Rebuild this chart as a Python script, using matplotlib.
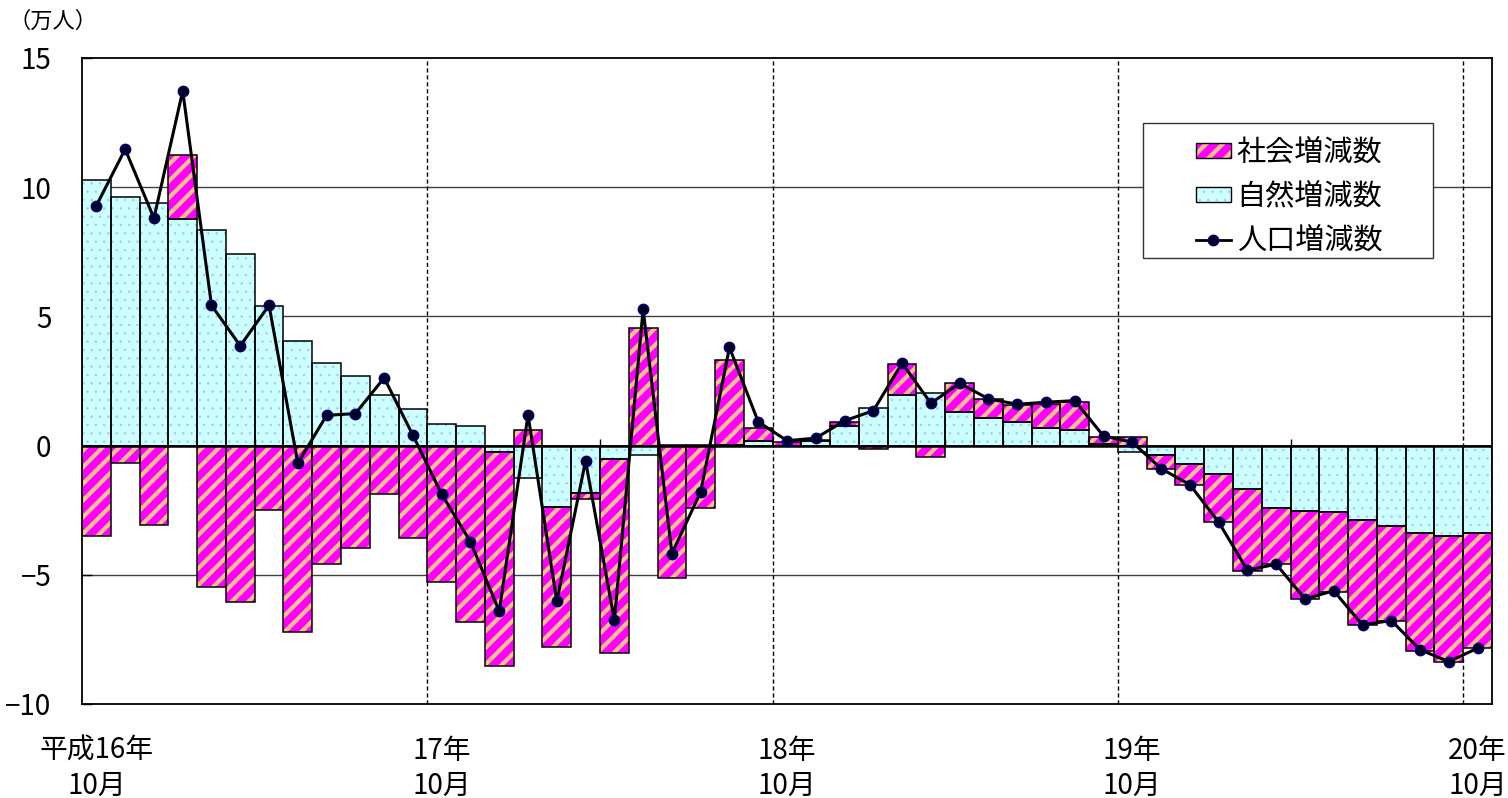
import numpy as np
import matplotlib
matplotlib.use('Agg')
import matplotlib.pyplot as plt
from matplotlib.patches import Patch, Rectangle
from matplotlib.lines import Line2D

plt.rcParams['font.family'] = ['Noto Sans CJK JP', 'DejaVu Sans']

# 平成16年10月 - 20年10月 (monthly, unit: 万人)
social = [-3.50, -0.68, -3.07, 2.47, -5.46, -6.06, -2.49, -7.22, -4.57, -3.98, -1.86, -3.58,
          -5.29, -6.82, -8.27, 0.59, -5.40, -0.22, -7.53, 4.56, -5.12, -2.43, 3.30, 0.50,
          0.14, 0.02, 0.17, -0.13, 1.19, -0.43, 1.12, 0.75, 0.67, 0.93, 1.09, 0.28,
          0.32, -0.51, -0.80, -1.86, -3.19, -2.16, -3.42, -3.09, -4.08, -3.65, -4.55, -4.89,
          -4.46]
natural = [10.27, 9.64, 9.38, 8.77, 8.36, 7.40, 5.39, 4.04, 3.20, 2.71, 1.96, 1.43,
           0.85, 0.75, -0.26, -1.26, -2.38, -1.84, -0.51, -0.36, 0.04, 0.03, 0.03, 0.19,
           0.0, 0.18, 0.76, 1.45, 1.96, 2.03, 1.29, 1.06, 0.91, 0.67, 0.61, 0.06,
           -0.25, -0.38, -0.71, -1.10, -1.68, -2.43, -2.52, -2.58, -2.86, -3.13, -3.38, -3.49,
           -3.38]
population = [9.29, 11.47, 8.80, 13.73, 5.43, 3.86, 5.43, -0.68, 1.17, 1.24, 2.62, 0.40,
              -1.88, -3.72, -6.41, 1.19, -6.03, -0.59, -6.76, 5.28, -4.18, -1.79, 3.80, 0.92,
              0.19, 0.29, 0.96, 1.35, 3.19, 1.64, 2.41, 1.81, 1.60, 1.68, 1.74, 0.37,
              0.13, -0.89, -1.51, -2.96, -4.82, -4.59, -5.93, -5.62, -6.94, -6.77, -7.90, -8.36,
              -7.84]
year_ticks = [0, 12, 24, 36, 48]
year_labels = ['平成16年\n10月', '17年\n10月', '18年\n10月', '19年\n10月', '20年\n10月']
yticks = [-10, -5, 0, 5, 10, 15]
ylabels = ['−10', '−5', '0', '5', '10', '15']

PINK = '#FF00FF'
STRIPE = '#F9C28A'
CYAN = '#CCFFFF'
DOT = '#A9C4F4'

social = np.array(social)
natural = np.array(natural)
x = np.arange(len(natural))
soc_bottom = np.where(np.sign(social) == np.sign(natural), natural, 0)


def hatch_lw(patches, w):
    for p in patches:
        if hasattr(p, 'set_hatch_linewidth'):
            p.set_hatch_linewidth(w)


fig = plt.figure(figsize=(15.08, 7.98), dpi=100)
ax = fig.add_axes([82 / 1508, 1 - 704 / 798, 1410 / 1508, 646 / 798])

# grid lines and year separators behind the bars
for v in [-5, 5, 10]:
    ax.axhline(v, color='#404040', lw=1.0, zorder=1)
for b in year_ticks[1:]:
    ax.axvline(b - 0.5, color='black', lw=1.0, ls=(0, (3, 2)), zorder=1)

plt.rcParams['hatch.linewidth'] = 0.5
nat_bars = ax.bar(x, natural, width=1, color=CYAN, edgecolor=DOT, hatch='..', lw=0, zorder=2)
plt.rcParams['hatch.linewidth'] = 3.0
soc_bars = ax.bar(x, social, width=1, bottom=soc_bottom, color=PINK, edgecolor=STRIPE,
                  hatch='//', lw=0, zorder=2)
hatch_lw(nat_bars, 0.5)
hatch_lw(soc_bars, 3.0)
ax.bar(x, natural, width=1, fill=False, edgecolor='black', lw=1.1, zorder=3)
ax.bar(x, social, width=1, bottom=soc_bottom, fill=False, edgecolor='black', lw=1.1, zorder=3)

ax.axhline(0, color='black', lw=1.8, zorder=4)
ax.vlines([5.5, 17.5, 29.5, 41.5], 0, 0.25, color='black', lw=1.0, zorder=4)

ax.plot(x, population, color='black', lw=2.2, marker='o', markersize=7.5,
        markerfacecolor='#000022', markeredgecolor='#000080', markeredgewidth=1.0, zorder=5)

ax.set_xlim(-0.5, len(x) - 0.5)
ax.set_ylim(-10, 15)
ax.set_yticks(yticks)
ax.set_yticklabels(ylabels, fontsize=20)
ax.tick_params(axis='y', direction='in', length=7, width=1, pad=22)
ax.set_xticks(year_ticks)
ax.set_xticklabels(year_labels, fontsize=20, linespacing=1.2, ha='center')
ax.tick_params(axis='x', length=0, pad=23)
for s in ax.spines.values():
    s.set_linewidth(1.3)
    s.set_color('black')

fig.text(8 / 1508, 1 - 21 / 798, '（万人）', fontsize=16, ha='left', va='center')

# legend
ax.add_patch(Rectangle((0.7525, 0.690), 0.2055, 0.209, transform=ax.transAxes,
                       facecolor='white', edgecolor='#333333', lw=1.0, zorder=6))
soc_h = (Patch(facecolor=PINK, edgecolor=STRIPE, hatch='//', lw=0),
         Patch(fill=False, edgecolor='black', lw=1.0))
nat_h = (Patch(facecolor=CYAN, edgecolor=DOT, hatch='..', lw=0),
         Patch(fill=False, edgecolor='black', lw=1.0))
pop_h = Line2D([], [], color='black', lw=2.0, marker='o', markersize=7.5,
               markerfacecolor='#000022', markeredgecolor='#000080')
leg = ax.legend([soc_h, nat_h, pop_h], ['社会増減数', '自然増減数', '人口増減数'],
                loc='center', bbox_to_anchor=(0.8560, 0.785), frameon=False, fontsize=21,
                handlelength=1.2, handleheight=0.42, handletextpad=0.2, labelspacing=0.48)
leg.set_zorder(7)
# the legend makes its own patches, so set their hatch widths again
for r in leg.findobj(Rectangle):
    if r.get_hatch() == '..':
        hatch_lw([r], 0.5)
    elif r.get_hatch() == '//':
        hatch_lw([r], 3.0)

fig.savefig('out.png', dpi=100)
